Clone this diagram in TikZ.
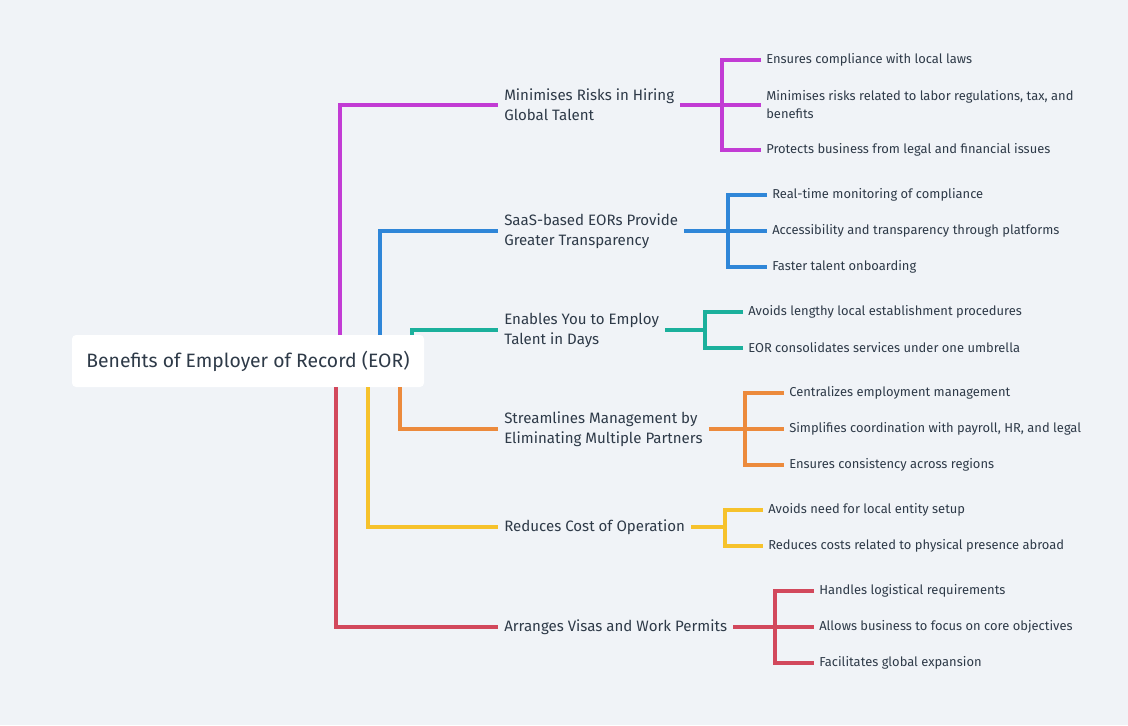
\documentclass[tikz,border=0pt]{standalone}
\usepackage{fontspec}
\setmainfont{Fira Sans}
\usepackage{xcolor}
\usetikzlibrary{positioning}
\definecolor{bgc}{HTML}{F0F3F7}
\definecolor{ink}{HTML}{2E3A48}
\definecolor{cmag}{HTML}{C23BD4}
\definecolor{cblue}{HTML}{2F86D8}
\definecolor{cteal}{HTML}{1BB09C}
\definecolor{corange}{HTML}{EC8A3C}
\definecolor{cyellow}{HTML}{F6C22C}
\definecolor{cred}{HTML}{D2485C}

\begin{document}
\begin{tikzpicture}[
  x=0.75pt, y=-0.75pt,
  rootbox/.style={draw=none, fill=white, rounded corners=3pt, minimum width=264pt, minimum height=39pt, font=\fontsize{14.5}{17}\selectfont, text=ink},
  branch/.style={anchor=west, inner xsep=4.5pt, inner ysep=0pt, align=left, font=\fontsize{11.3}{15}\selectfont, text=ink},
  leaf/.style={anchor=west, inner xsep=3.75pt, inner ysep=0pt, align=left, font=\fontsize{9.7}{13.5}\selectfont, text=ink},
  wire/.style={line width=2.5pt}
]
\fill[bgc] (0,0) rectangle (1128,725);
\useasboundingbox (0,0) rectangle (1128,725);

\node[rootbox] (root) at (248,361) {Benefits of Employer of Record (EOR)};

\node[branch] (b1) at (498,105) {Minimises Risks in Hiring\\Global Talent};
\node[branch] (b2) at (498,231) {SaaS-based EORs Provide\\Greater Transparency};
\node[branch] (b3) at (498,330) {Enables You to Employ\\Talent in Days};
\node[branch] (b4) at (498,429) {Streamlines Management by\\Eliminating Multiple Partners};
\node[branch] (b5) at (498,527) {Reduces Cost of Operation};
\node[branch] (b6) at (498,627) {Arranges Visas and Work Permits};

\coordinate (t1) at (340,0);
\coordinate (t2) at (380,0);
\coordinate (t3) at (412,0);
\coordinate (t4) at (400,0);
\coordinate (t5) at (368,0);
\coordinate (t6) at (336,0);

\coordinate (f1) at (722,104);
\coordinate (f2) at (728,230);
\coordinate (f3) at (705,329);
\coordinate (f4) at (745,428);
\coordinate (f5) at (725,526);
\coordinate (f6) at (775,626);

\node[leaf] (l11) at (761,60) {Ensures compliance with local laws};
\node[leaf] (l12) at (761,105) {Minimises risks related to labor regulations, tax, and\\benefits};
\node[leaf] (l13) at (761,150) {Protects business from legal and financial issues};

\node[leaf] (l21) at (767,195) {Real-time monitoring of compliance};
\node[leaf] (l22) at (767,231) {Accessibility and transparency through platforms};
\node[leaf] (l23) at (767,267) {Faster talent onboarding};

\node[leaf] (l31) at (743,312) {Avoids lengthy local establishment procedures};
\node[leaf] (l32) at (743,348) {EOR consolidates services under one umbrella};

\node[leaf] (l41) at (784,393) {Centralizes employment management};
\node[leaf] (l42) at (784,429) {Simplifies coordination with payroll, HR, and legal};
\node[leaf] (l43) at (784,465) {Ensures consistency across regions};

\node[leaf] (l51) at (763,510) {Avoids need for local entity setup};
\node[leaf] (l52) at (763,546) {Reduces costs related to physical presence abroad};

\node[leaf] (l61) at (814,591) {Handles logistical requirements};
\node[leaf] (l62) at (814,627) {Allows business to focus on core objectives};
\node[leaf] (l63) at (814,663) {Facilitates global expansion};

\draw[wire, cmag] (root.north -| t1) |- (b1.west);
\draw[wire, cblue] (root.north -| t2) |- (b2.west);
\draw[wire, cteal] (root.north -| t3) |- (b3.west);
\draw[wire, corange] (root.south -| t4) |- (b4.west);
\draw[wire, cyellow] (root.south -| t5) |- (b5.west);
\draw[wire, cred] (root.south -| t6) |- (b6.west);

\draw[wire, cmag] (b1.east) -- (l12.west);
\draw[wire, cmag] (l11.west) -| (f1) |- (l13.west);

\draw[wire, cblue] (b2.east) -- (l22.west);
\draw[wire, cblue] (l21.west) -| (f2) |- (l23.west);

\draw[wire, cteal] (b3.east) -- (b3.east -| f3);
\draw[wire, cteal] (l31.west) -| (f3) |- (l32.west);

\draw[wire, corange] (b4.east) -- (l42.west);
\draw[wire, corange] (l41.west) -| (f4) |- (l43.west);

\draw[wire, cyellow] (b5.east) -- (b5.east -| f5);
\draw[wire, cyellow] (l51.west) -| (f5) |- (l52.west);

\draw[wire, cred] (b6.east) -- (l62.west);
\draw[wire, cred] (l61.west) -| (f6) |- (l63.west);
\end{tikzpicture}
\end{document}
